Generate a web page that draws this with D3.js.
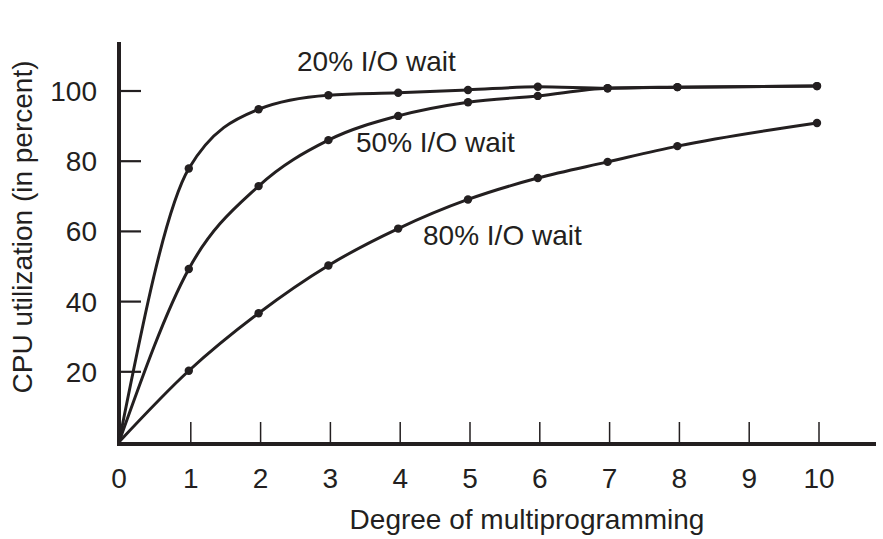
<!DOCTYPE html>
<html>
<head>
<meta charset="utf-8">
<script src="https://cdn.jsdelivr.net/npm/d3@7"></script>
<style>
  html, body { margin: 0; padding: 0; background: #fff; }
  svg { display: block; }
  text { font-family: "Liberation Sans", Arial, Helvetica, sans-serif; fill: #231f20; }
</style>
</head>
<body>
<svg id="chart" width="883" height="539"></svg>
<script>
// ---- data ----
const xValues = [0, 1, 2, 3, 4, 5, 6, 7, 8, 10];
const wait20 = [0, 77.9, 94.8, 98.8, 99.5, 100.3, 101.2, 100.8, 101.1, 101.4];
const wait50 = [0, 49.3, 72.9, 86.0, 92.9, 96.8, 98.6, 100.8, 101.1, 101.4];
const wait80 = [0, 20.3, 36.7, 50.3, 60.8, 69.1, 75.2, 79.8, 84.3, 90.9];
const seriesNames = ["20% I/O wait", "50% I/O wait", "80% I/O wait"];
const xTicks = [1, 2, 3, 4, 5, 6, 7, 8, 9, 10];
const xTickLabels = [0, 1, 2, 3, 4, 5, 6, 7, 8, 9, 10];
const yTicks = [20, 40, 60, 80, 100];
const xTitle = "Degree of multiprogramming";
const yTitle = "CPU utilization (in percent)";

const ink = "#231f20";
const fs = 28;
const svg = d3.select("#chart");

const x = d3.scaleLinear().domain([0, 10]).range([119, 817]);
const y = d3.scaleLinear().domain([0, 100]).range([442, 91]);

// axes lines
const axisY = 444;
svg.append("line").attr("x1", 119).attr("x2", 876).attr("y1", axisY).attr("y2", axisY)
  .attr("stroke", ink).attr("stroke-width", 4);
svg.append("line").attr("x1", 119).attr("x2", 119).attr("y1", 42).attr("y2", axisY + 2)
  .attr("stroke", ink).attr("stroke-width", 4);

// x ticks (pointing up into the plot)
svg.append("g").selectAll("line").data(xTicks).join("line")
  .attr("x1", d => x(d) + 2).attr("x2", d => x(d) + 2)
  .attr("y1", axisY - 22).attr("y2", axisY)
  .attr("stroke", ink).attr("stroke-width", 1.5);
svg.append("g").selectAll("text").data(xTickLabels).join("text")
  .attr("x", d => x(d) + (d === 0 ? 0 : 2)).attr("y", 488)
  .attr("text-anchor", "middle").attr("font-size", fs)
  .text(d => d);

// y ticks (pointing right into the plot)
svg.append("g").selectAll("line").data(yTicks).join("line")
  .attr("x1", 119).attr("x2", 141)
  .attr("y1", d => y(d)).attr("y2", d => y(d))
  .attr("stroke", ink).attr("stroke-width", 2.2);
svg.append("g").selectAll("text").data(yTicks).join("text")
  .attr("x", 97).attr("y", d => y(d)).attr("dy", "0.36em")
  .attr("text-anchor", "end").attr("font-size", fs)
  .text(d => d);

// titles
svg.append("text").attr("x", 527).attr("y", 529).attr("text-anchor", "middle")
  .attr("font-size", fs).text(xTitle);
svg.append("text").attr("transform", "translate(32,227) rotate(-90)")
  .attr("text-anchor", "middle").attr("font-size", fs).text(yTitle);

// series
const allSeries = [wait20, wait50, wait80];
const line = d3.line()
  .x((d, i) => x(xValues[i]))
  .y(d => y(d))
  .curve(d3.curveMonotoneX);

allSeries.forEach(vals => {
  svg.append("path").attr("d", line(vals))
    .attr("fill", "none").attr("stroke", ink).attr("stroke-width", 3)
    .attr("stroke-linejoin", "round");
  svg.append("g").selectAll("circle").data(vals.slice(1)).join("circle")
    .attr("cx", (d, i) => x(xValues[i + 1]))
    .attr("cy", d => y(d))
    .attr("r", 4.2).attr("fill", ink);
});

// series labels
const labelPos = [[297, 71], [356, 152], [423, 245]];
seriesNames.forEach((name, i) => {
  svg.append("text").attr("x", labelPos[i][0]).attr("y", labelPos[i][1])
    .attr("font-size", fs).text(name);
});
</script>
</body>
</html>
